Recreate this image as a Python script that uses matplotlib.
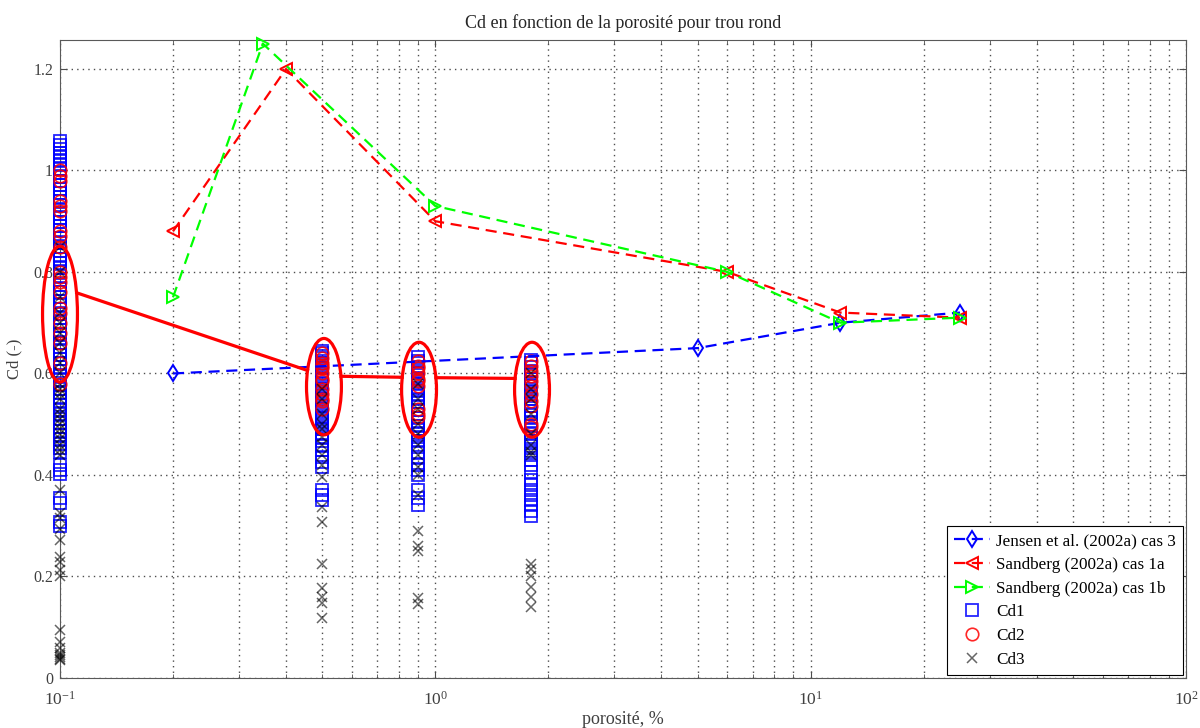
"""Cd en fonction de la porosité pour trou rond."""
import numpy as np
import matplotlib
matplotlib.use("Agg")
import matplotlib.pyplot as plt
from matplotlib.patches import Ellipse
from matplotlib.ticker import FormatStrFormatter, LogLocator, NullFormatter

plt.rcParams['font.family'] = ['Liberation Serif', 'DejaVu Serif']
plt.rcParams['mathtext.fontset'] = 'custom'
plt.rcParams['mathtext.rm'] = 'Liberation Serif'
plt.rcParams['mathtext.it'] = 'Liberation Serif:italic'

# ---------- littérature ----------
jensen_x = [0.2, 5, 12, 25]
jensen_y = [0.60, 0.65, 0.70, 0.72]
sand1a_x = [0.2, 0.4, 1, 6, 12, 25]
sand1a_y = [0.88, 1.20, 0.90, 0.80, 0.72, 0.71]
sand1b_x = [0.2, 0.347, 1, 6, 12, 25]
sand1b_y = [0.75, 1.25, 0.93, 0.80, 0.70, 0.71]

# ---------- mesures (porosité 0.1, 0.5, 0.9, 1.8 %) ----------
poro = [0.1, 0.5, 0.9, 1.8]
cd1 = [
    [1.058, 1.05, 1.043, 1.035, 1.028, 1.02, 1.012, 1.003, 0.995, 0.987, 0.98, 0.972,
     0.963, 0.955, 0.947, 0.94, 0.931, 0.922, 0.915, 0.907, 0.898, 0.89, 0.882, 0.874,
     0.866, 0.857, 0.85, 0.842, 0.833, 0.825, 0.817, 0.808, 0.8, 0.792, 0.784, 0.775,
     0.767, 0.76, 0.751, 0.743, 0.735, 0.727, 0.718, 0.71, 0.702, 0.694, 0.686, 0.678,
     0.67, 0.661, 0.653, 0.645, 0.637, 0.628, 0.62, 0.612, 0.604, 0.595, 0.587, 0.578,
     0.57, 0.562, 0.553, 0.545, 0.537, 0.528, 0.52, 0.511, 0.503, 0.495, 0.487, 0.478,
     0.47, 0.462, 0.453, 0.445, 0.42, 0.41, 0.402, 0.355, 0.345, 0.308, 0.3],
    [0.645, 0.64, 0.635, 0.63, 0.625, 0.62, 0.615, 0.61, 0.603, 0.596, 0.59, 0.582,
     0.576, 0.57, 0.562, 0.556, 0.55, 0.542, 0.536, 0.53, 0.522, 0.515, 0.51, 0.502,
     0.495, 0.49, 0.482, 0.474, 0.466, 0.457, 0.45, 0.435, 0.425, 0.415, 0.37, 0.36, 0.35],
    [0.632, 0.625, 0.62, 0.612, 0.605, 0.6, 0.592, 0.585, 0.58, 0.572, 0.565, 0.558,
     0.55, 0.543, 0.536, 0.528, 0.52, 0.512, 0.505, 0.497, 0.49, 0.482, 0.475, 0.466,
     0.456, 0.446, 0.436, 0.42, 0.41, 0.4, 0.37, 0.355, 0.34],
    [0.627, 0.62, 0.612, 0.605, 0.598, 0.59, 0.584, 0.577, 0.57, 0.563, 0.556, 0.549,
     0.542, 0.535, 0.527, 0.52, 0.512, 0.505, 0.497, 0.49, 0.482, 0.474, 0.466, 0.457,
     0.448, 0.44, 0.43, 0.42, 0.405, 0.39, 0.38, 0.37, 0.36, 0.35, 0.34, 0.33, 0.32],
]
cd2 = [
    [1.0, 0.99, 0.98, 0.94, 0.93, 0.92, 0.88, 0.87, 0.85, 0.8, 0.79, 0.78, 0.76,
     0.73, 0.72, 0.7, 0.68, 0.66, 0.62, 0.58],
    [0.64, 0.63, 0.62, 0.615, 0.61, 0.6, 0.59, 0.585, 0.57, 0.56, 0.55, 0.545, 0.53],
    [0.625, 0.615, 0.61, 0.6, 0.59, 0.585, 0.575, 0.53, 0.52, 0.515],
    [0.625, 0.615, 0.605, 0.595, 0.585, 0.575, 0.56, 0.545, 0.535, 0.5, 0.495],
]
cd3 = [
    [0.035, 0.038, 0.042, 0.046, 0.05, 0.06, 0.07, 0.095, 0.2, 0.213, 0.228, 0.238,
     0.272, 0.293, 0.315, 0.325, 0.37, 0.44, 0.45, 0.46, 0.47, 0.48, 0.49, 0.5, 0.51,
     0.52, 0.53, 0.55, 0.56, 0.57, 0.58, 0.6, 0.62, 0.64, 0.66, 0.68, 0.7, 0.72, 0.75,
     0.8, 0.85],
    [0.118, 0.148, 0.16, 0.177, 0.225, 0.307, 0.337, 0.396, 0.42, 0.44, 0.46, 0.475,
     0.49, 0.5, 0.52, 0.55, 0.57],
    [0.145, 0.158, 0.25, 0.26, 0.29, 0.36, 0.4, 0.415, 0.44, 0.46, 0.48, 0.5, 0.53,
     0.55, 0.58],
    [0.14, 0.16, 0.18, 0.2, 0.215, 0.225, 0.44, 0.445, 0.46, 0.48, 0.52, 0.55, 0.57, 0.6],
]

# ---------- ellipses + moyennes ----------
ell_x = [0.1, 0.505, 0.905, 1.81]
ell_y = [0.717, 0.574, 0.568, 0.568]
ell_h = [0.268, 0.19, 0.187, 0.187]
ell_w = 0.093  # en décades
moy_y = [0.77, 0.595, 0.592, 0.59]


fig = plt.figure(figsize=(12, 7.28), dpi=100)
ax = fig.add_axes([0.05, 0.0687, 0.9383, 0.8763])
ax.set_xscale('log')
ax.set_xlim(0.1, 100)
ax.set_ylim(0, 1.257)

dash = dict(ls='--', dashes=(5, 3), lw=1.6, mfc='none', mew=1.4, clip_on=False)
ax.plot(jensen_x, jensen_y, color='#0000ff', marker='d', ms=8,
        label='Jensen et al. (2002a) cas 3', zorder=4, **dash)
ax.plot(sand1a_x, sand1a_y, color='#ff0000', marker='<', ms=9,
        label='Sandberg (2002a) cas 1a', zorder=4, **dash)
ax.plot(sand1b_x, sand1b_y, color='#00ff00', marker='>', ms=9,
        label='Sandberg (2002a) cas 1b', zorder=4, **dash)

for i, x in enumerate(poro):
    kw = dict(ls='none', clip_on=False, zorder=3)
    ax.plot([x] * len(cd1[i]), cd1[i], marker='s', ms=8.5, mfc='none',
            mec=(0, 0, 1, 0.85), mew=1.3, label='Cd1' if i == 0 else None, **kw)
    ax.plot([x] * len(cd2[i]), cd2[i], marker='o', ms=9, mfc='none',
            mec=(1, 0, 0, 0.85), mew=1.2, label='Cd2' if i == 0 else None, **kw)
    ax.plot([x] * len(cd3[i]), cd3[i], marker='x', ms=7, color=(0, 0, 0, 0.6),
            mew=1.1, label='Cd3' if i == 0 else None, **kw)

# ellipses in log10(x) space, so they stay true ellipses on screen
log_trans = ax.transLimits + ax.transAxes
eu = np.log10(ell_x)
for u, y, h in zip(eu, ell_y, ell_h):
    ax.add_patch(Ellipse((u, y), ell_w, h, transform=log_trans, fill=False,
                         ec='#ff0000', lw=2.3, clip_on=False, zorder=5))

# mean line, drawn only outside the ellipses
seg_x, seg_y = [], []
for i in range(len(ell_x) - 1):
    t = np.linspace(0, 1, 800)
    uu = eu[i] + t * (eu[i + 1] - eu[i])
    yy = moy_y[i] + t * (moy_y[i + 1] - moy_y[i])
    out = np.ones_like(t, dtype=bool)
    for j in (i, i + 1):
        out &= ((uu - eu[j]) / (ell_w / 2)) ** 2 + ((yy - ell_y[j]) / (ell_h[j] / 2)) ** 2 > 1
    seg_x += list(10 ** uu[out]) + [np.nan]
    seg_y += list(yy[out]) + [np.nan]
ax.plot(seg_x, seg_y, color='#ff0000', lw=2.3, zorder=5)

# axes styling (MATLAB-like)
ax.xaxis.set_minor_locator(LogLocator(base=10, subs=np.arange(2, 10)))
ax.xaxis.set_minor_formatter(NullFormatter())
ax.set_yticks([0, 0.2, 0.4, 0.6, 0.8, 1.0, 1.2])
ax.yaxis.set_major_formatter(FormatStrFormatter('%g'))
grid_kw = dict(ls=(0, (1, 3)), color='0.3', lw=1.0)
ax.grid(True, which='major', **grid_kw)
ax.grid(True, which='minor', axis='x', **grid_kw)
ax.set_axisbelow(True)
ax.tick_params(which='both', direction='in', top=True, right=True,
               labelsize=11.5, colors='0.3', labelcolor='0.25')
ax.tick_params(which='major', length=5)
ax.tick_params(which='minor', length=3)
ax.tick_params(axis='x', which='major', pad=9, labelsize=12.5)
ax.tick_params(axis='y', pad=5)
for s in ax.spines.values():
    s.set_color('0.35')

ax.set_title('Cd en fonction de la porosité pour trou rond', fontsize=13, color='0.15', pad=9)
ax.set_xlabel('porosité, %', fontsize=13, color='0.25', labelpad=2)
ax.set_ylabel('Cd (-)', fontsize=12, color='0.25', labelpad=8)

leg = ax.legend(loc='lower right', fontsize=12.3, handlelength=2.1, handletextpad=0.35,
                fancybox=False, framealpha=1, edgecolor='black',
                borderaxespad=0.2, labelspacing=0.45, borderpad=0.4)
leg.get_frame().set_linewidth(0.8)

fig.savefig('out.png', dpi=100)
